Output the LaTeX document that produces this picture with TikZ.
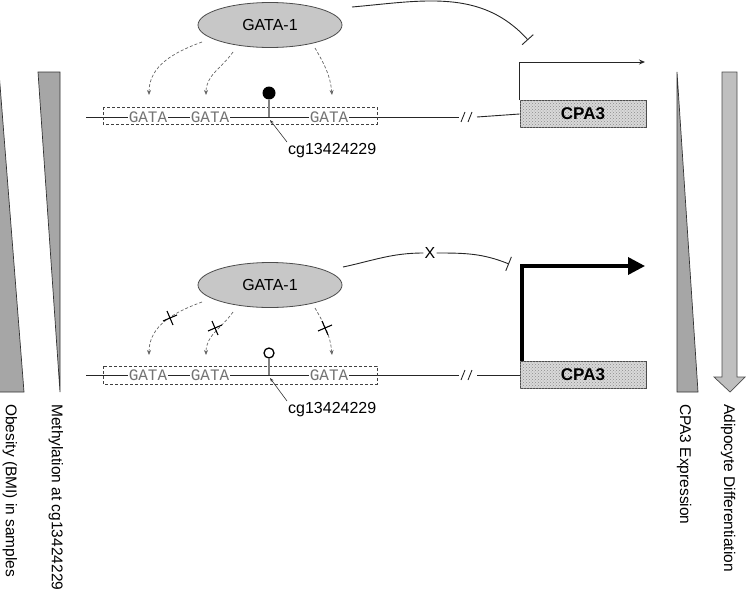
\documentclass[tikz,border=0pt]{standalone}
\usepackage{fontspec}
\setmainfont{Liberation Sans}
\newfontfamily\gatamono{Liberation Mono}
\usetikzlibrary{arrows.meta,patterns,shapes.geometric}
\tikzset{
  thinline/.style={line width=0.9pt, draw=black!85},
  dashbox/.style={draw=black!75, line width=0.8pt, dash pattern=on 3pt off 2pt},
  gatatxt/.style={font=\gatamono\fontsize{16}{16}\selectfont, text=black!55, fill=white, inner xsep=1pt, inner ysep=0.5pt},
  bindarrow/.style={draw=black!60, line width=0.7pt, dash pattern=on 3pt off 2pt, -{Stealth[length=5pt,width=4pt]}},
  gataellipse/.style={ellipse, draw=black!70, line width=0.8pt, fill=black!22, minimum width=144pt, minimum height=45pt, inner sep=0pt},
  genebox/.style={draw=black!70, line width=0.8pt, fill=black!15, postaction={pattern=crosshatch dots, pattern color=black!45}, minimum width=126pt, minimum height=27pt, inner sep=0pt, font=\bfseries\fontsize{17}{17}\selectfont},
  sidetext/.style={rotate=-90, anchor=west, inner sep=0pt, font=\fontsize{15.5}{18}\selectfont},
  sideshape/.style={draw=black!80, line width=0.7pt, fill=black!35},
  stemline/.style={line width=2pt, draw=black!50},
  pointer/.style={draw=black!80, line width=0.6pt, -{Stealth[length=4pt,width=3pt]}},
}
\begin{document}
\begin{tikzpicture}[x=1pt,y=-1pt, font=\fontsize{16}{19}\selectfont]
\useasboundingbox (0,0) rectangle (746,597);

% ---------- left side shapes ----------
\path[sideshape] (-1,72) -- (24,392) -- (-1,392) -- cycle;
\path[sideshape] (38,72) -- (60,72) -- (60,392) -- cycle;
\node[sidetext] (obesity) at (10,404) {Obesity (BMI) in samples};
\node[sidetext] (methyl) at (56,404) {Methylation at cg13424229};

% ---------- right side shapes ----------
\path[sideshape] (677,72) -- (698,392) -- (677,392) -- cycle;
\path[draw=black!70, line width=0.7pt, fill=black!25] (722,72) -- (737,72) -- (737,377) -- (745,377) -- (730,392) -- (714,377) -- (722,377) -- cycle;
\node[sidetext] (cpaexpr) at (684,404) {CPA3 Expression};
\node[sidetext] (adipo) at (728,404) {Adipocyte Differentiation};

% ================= TOP PANEL =================
\node[gataellipse] (g1) at (270,25) {GATA-1};
\node[genebox] (cpa1) at (583,114) {CPA3};
\coordinate (gl1) at (86,117);
\coordinate (br1a) at (459,117);
\coordinate (br1b) at (477,117);
\draw[thinline] (gl1) -- (br1a);
\draw[thinline] (br1b) -- (cpa1.west);
\draw[thinline] (461,122) -- (465,112);
\draw[thinline] (468,122) -- (472,112);
\node[gatatxt] (ta1) at (148,117) {GATA};
\node[gatatxt] (ta2) at (210,117) {GATA};
\node[gatatxt] (ta3) at (329,117) {GATA};
\draw[dashbox] (103,107) rectangle (377,124);
% methylated CpG
\coordinate (stem1) at (269,117);
\node[circle, fill=black, minimum size=13pt, inner sep=0pt] (m1) at (269,93) {};
\draw[stemline] (stem1) -- (m1.south);
\node[anchor=base west, inner sep=0pt] (cg1) at (288,154) {cg13424229};
\coordinate (cg1p) at (287,142);
\coordinate (stem1p) at (270,120);
\draw[pointer] (cg1p) -- (stem1p);
% binding arrows
\coordinate (s11) at (202,42);  \coordinate (e11) at (149,95);
\coordinate (s12) at (233,52);  \coordinate (e12) at (206,95);
\coordinate (s13) at (315,48);  \coordinate (e13) at (332,95);
\draw[bindarrow] (s11) to[out=200, in=90] (e11);
\draw[bindarrow] (s12) to[out=235, in=90] (e12);
\draw[bindarrow] (s13) to[out=-60, in=95] (e13);
% inhibition
\coordinate (i1s) at (352,7);
\coordinate (i1e) at (528,40);
\draw[thinline, -{Bar[width=15pt, line width=0.9pt]}] (i1s) to[out=5, in=132] (i1e);
% promoter arrow
\coordinate (tss1) at (645,62);
\draw[thinline, -{Stealth[length=6pt, width=5pt]}] (cpa1.north west) |- (tss1);

% ================= BOTTOM PANEL =================
\node[gataellipse] (g2) at (270,285) {GATA-1};
\node[genebox] (cpa2) at (583,375) {CPA3};
\coordinate (gl2) at (86,375);
\coordinate (br2a) at (459,375);
\coordinate (br2b) at (477,375);
\draw[thinline] (gl2) -- (br2a);
\draw[thinline] (br2b) -- (cpa2.west);
\draw[thinline] (461,380) -- (465,370);
\draw[thinline] (468,380) -- (472,370);
\node[gatatxt] (tb1) at (148,375) {GATA};
\node[gatatxt] (tb2) at (210,375) {GATA};
\node[gatatxt] (tb3) at (329,375) {GATA};
\draw[dashbox] (103,366) rectangle (377,384);
% unmethylated CpG
\coordinate (stem2) at (269,375);
\node[circle, draw=black, line width=1.3pt, fill=white, minimum size=10pt, inner sep=0pt] (m2) at (269,353) {};
\draw[stemline] (stem2) -- (m2.south);
\node[anchor=base west, inner sep=0pt] (cg2) at (288,413) {cg13424229};
\coordinate (cg2p) at (287,401);
\coordinate (stem2p) at (270,378);
\draw[pointer] (cg2p) -- (stem2p);
% blocked binding arrows
\coordinate (s21) at (202,302);  \coordinate (e21) at (149,355);
\coordinate (s22) at (233,312);  \coordinate (e22) at (206,355);
\coordinate (s23) at (315,308);  \coordinate (e23) at (332,355);
\draw[bindarrow] (s21) to[out=200, in=90] (e21);
\draw[bindarrow] (s22) to[out=235, in=90] (e22);
\draw[bindarrow] (s23) to[out=-60, in=95] (e23);
\foreach \cx/\cy in {170/318, 215/328, 325/328}{
  \draw[line width=1.1pt] (\cx-7,\cy+3) -- (\cx+7,\cy-3);
  \draw[line width=1.1pt] (\cx-3,\cy-7) -- (\cx+3,\cy+7);
}
% blocked inhibition
\node[fill=white, inner sep=1pt] (xb) at (430,253) {X};
\coordinate (i2s) at (343,267);
\coordinate (i2e) at (509,264);
\draw[thinline] (i2s) to[out=12, in=180] (xb);
\draw[thinline, -{Bar[width=15pt, line width=0.9pt]}] (xb) to[out=0, in=158] (i2e);
% strong promoter arrow
\coordinate (tss2) at (645,266);
\coordinate (p2base) at (522,361);
\draw[line width=3.5pt, -{Triangle[length=17pt, width=17pt]}] (p2base) |- (tss2);
\end{tikzpicture}
\end{document}
